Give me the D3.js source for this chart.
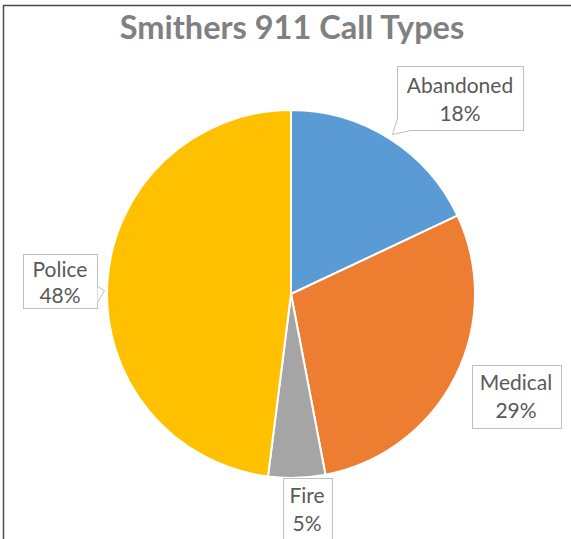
<!DOCTYPE html>
<html>
<head>
<meta charset="utf-8">
<script src="https://cdn.jsdelivr.net/npm/d3@7"></script>
<style>
  html, body { margin: 0; padding: 0; background: #fff; }
  svg { display: block; }
</style>
</head>
<body>
<svg id="chart" width="571" height="539"></svg>
<script>
// Call type shares (percent)
const categories = ["Abandoned", "Medical", "Fire", "Police"];
const values = [18, 29, 5, 48];
const colors = ["#5b9bd5", "#ed7d31", "#a5a5a5", "#ffc000"];
const title = "Smithers 911 Call Types";

const W = 571, H = 539;
const svg = d3.select("#chart");

// outer frame (top and left edges visible)
svg.append("path")
  .attr("d", `M3.5,${H} V5.5 H${W}`)
  .attr("fill", "none")
  .attr("stroke", "#4a4a4a")
  .attr("stroke-width", 1.5);

// title
svg.append("text")
  .attr("x", 292)
  .attr("y", 39)
  .attr("text-anchor", "middle")
  .attr("font-family", "Lato, 'Open Sans', sans-serif")
  .attr("font-weight", "bold")
  .attr("font-size", 32.5)
  .attr("fill", "#808080")
  .text(title);

const cx = 291, cy = 294, R = 184;
const data = categories.map((c, i) => ({ name: c, value: values[i], color: colors[i] }));

const pie = d3.pie().sort(null).value(d => d.value);
const arc = d3.arc().innerRadius(0).outerRadius(R);

const g = svg.append("g").attr("transform", `translate(${cx},${cy})`);
g.selectAll("path.slice")
  .data(pie(data))
  .join("path")
  .attr("class", "slice")
  .attr("d", arc)
  .attr("fill", d => d.data.color)
  .attr("stroke", "#fff")
  .attr("stroke-width", 2)
  .attr("stroke-linejoin", "round");

// callout boxes: box rectangle plus optional tail pointing at the slice
const callouts = {
  Abandoned: { x: 397, y: 66, w: 126, h: 64, tx: 460, l1: 93, l2: 121,
               tail: [[397, 118], [392, 134], [410, 130]] },
  Medical:   { x: 472, y: 365, w: 89, h: 63, tx: 516, l1: 390, l2: 418 },
  Fire:      { x: 283, y: 478, w: 49, h: 70, tx: 307, l1: 503, l2: 531 },
  Police:    { x: 23, y: 254, w: 74, h: 54, tx: 60, l1: 277, l2: 303,
               tail: [[97, 286], [104, 290], [97, 302]] }
};

const labels = svg.append("g").attr("class", "labels");
data.forEach(d => {
  const c = callouts[d.name];
  const lg = labels.append("g");
  lg.append("rect")
    .attr("x", c.x + 0.5).attr("y", c.y + 0.5)
    .attr("width", c.w).attr("height", c.h)
    .attr("fill", "#fff")
    .attr("stroke", "#bfbfbf")
    .attr("stroke-width", 1);
  if (c.tail) {
    const t = c.tail;
    lg.append("path")
      .attr("d", `M${t[0][0] + 0.5},${t[0][1] + 0.5} L${t[1][0] + 0.5},${t[1][1] + 0.5} L${t[2][0] + 0.5},${t[2][1] + 0.5}`)
      .attr("fill", "#fff")
      .attr("stroke", "#bfbfbf")
      .attr("stroke-width", 1);
  }
  const txt = lg.append("text")
    .attr("text-anchor", "middle")
    .attr("font-family", "Lato, 'Open Sans', sans-serif")
    .attr("font-size", 21)
    .attr("fill", "#595959");
  txt.append("tspan").attr("x", c.tx).attr("y", c.l1).text(d.name);
  txt.append("tspan").attr("x", c.tx).attr("y", c.l2).text(d.value + "%");
});
</script>
</body>
</html>
